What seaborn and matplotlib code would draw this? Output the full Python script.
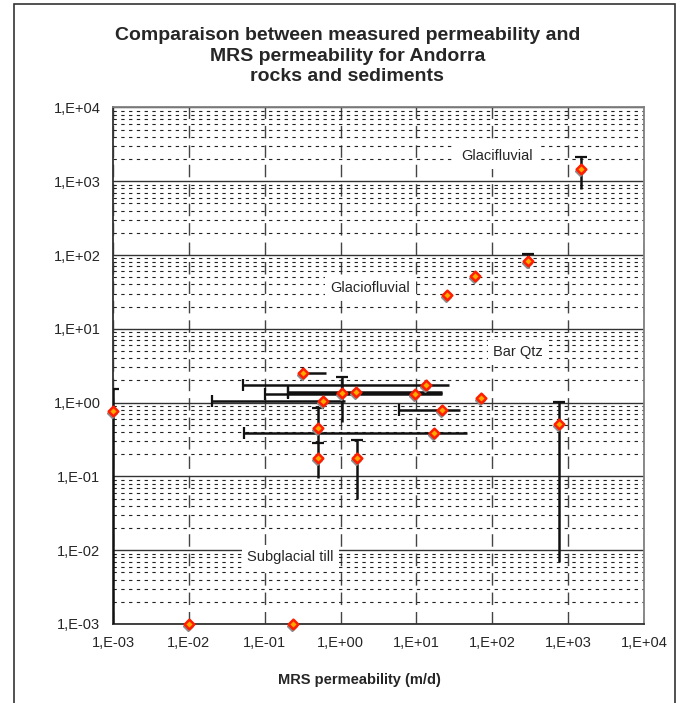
import numpy as np
import pandas as pd
import matplotlib
matplotlib.use("Agg")
import matplotlib.pyplot as plt
import seaborn as sns
from matplotlib.patches import Rectangle
from matplotlib.transforms import offset_copy
from matplotlib.ticker import FixedLocator, FuncFormatter, NullFormatter, NullLocator

nan = np.nan

# MRS permeability (x) vs measured permeability (y), m/d
mrs_k = [0.001, 0.01, 0.237, 0.32, 0.5, 0.5, 0.58, 1.04, 1.59, 9.6,
         13.3, 17.2, 21.9, 70.3, 759, 1.67, 25.5, 59.2, 293, 1466]
meas_k = [0.77, 0.001, 0.001, 2.55, 0.46, 0.18, 1.06, 1.37, 1.39, 1.30,
          1.76, 0.39, 0.79, 1.15, 0.52, 0.18, 28.6, 52.2, 83.4, 1450]

# error bar ends (nan = no bar)
mrs_lo = [nan, nan, nan, 0.32, nan, nan, 0.020, 0.2, 0.2, 0.1,
          0.051, 0.053, 5.9, nan, nan, nan, nan, nan, nan, nan]
mrs_hi = [nan, nan, nan, 0.64, nan, nan, 1.14, 22, 22, 22,
          27, 46, 37.5, nan, nan, nan, nan, nan, nan, nan]
meas_lo = [0.001, nan, nan, nan, 0.284, 0.094, nan, 0.545, nan, nan,
           nan, nan, nan, nan, 0.007, 0.05, nan, nan, 65.8, 776]
meas_hi = [1.51, nan, nan, nan, 0.845, 0.284, nan, 2.23, nan, nan,
           nan, nan, nan, nan, 1.03, 0.315, nan, nan, 102, 2150]

# rock type labels
label_text = ["Glacifluvial", "Glaciofluvial", "Bar Qtz", "Subglacial till"]
label_x = [114, 2.47, 218, 0.22]
label_y = [2200, 36.3, 4.8, 0.008]

# axis decades
decades = [-3, -2, -1, 0, 1, 2, 3, 4]

df = pd.DataFrame({"mrs": mrs_k, "meas": meas_k,
                   "mrs_lo": mrs_lo, "mrs_hi": mrs_hi,
                   "meas_lo": meas_lo, "meas_hi": meas_hi})

sns.set_style("white")
plt.rcParams["font.family"] = ["Liberation Sans", "DejaVu Sans"]

fig = plt.figure(figsize=(6.81, 7.03), dpi=100)
ax = fig.add_axes([0.1659, 0.1124, 0.7797, 0.7347])

ax.set_xscale("log")
ax.set_yscale("log")

#grid
major = 10.0 ** np.array(decades)
minor = np.array([m * d for d in major[:-1] for m in range(2, 10)])
ax.xaxis.set_major_locator(FixedLocator(major))
ax.yaxis.set_major_locator(FixedLocator(major))
ax.yaxis.set_minor_locator(FixedLocator(minor))
ax.xaxis.set_minor_locator(NullLocator())
ax.grid(axis="y", which="major", color="#333333", lw=1.0, ls="-")
ax.grid(axis="y", which="minor", color="#222222", lw=0.8, ls=(0, (3, 4)))
ax.grid(axis="x", which="major", color="#444444", lw=1.0, ls=(0, (9, 5)))
ax.set_axisbelow(True)

fmt = FuncFormatter(lambda v, p: "1,E%+03d" % int(round(np.log10(v))))
ax.xaxis.set_major_formatter(fmt)
ax.yaxis.set_major_formatter(fmt)
ax.xaxis.set_minor_formatter(NullFormatter())
ax.yaxis.set_minor_formatter(NullFormatter())
ax.tick_params(axis="both", which="major", labelsize=10.5, length=5, width=1,
               color="#555555", direction="out", pad=4)
ax.tick_params(axis="both", which="minor", length=0)
for s in ax.spines.values():
    s.set_color("#808080")
    s.set_linewidth(1.3)
ax.spines["left"].set_color("#333333")
ax.spines["bottom"].set_color("#333333")

#error bars: caps only at left end (x) and top end (y)
h = df.dropna(subset=["mrs_lo"])
ax.errorbar(h["mrs"], h["meas"],
            xerr=[h["mrs"] - h["mrs_lo"], h["mrs_hi"] - h["mrs"]],
            fmt="none", ecolor="#111111", elinewidth=1.8, capsize=0, zorder=3)
ax.plot(h["mrs_lo"], h["meas"], ls="none", marker="|", ms=9, mew=1.6,
        color="#111111", zorder=3)
v = df.dropna(subset=["meas_lo"])
ax.errorbar(v["mrs"], v["meas"],
            yerr=[v["meas"] - v["meas_lo"], v["meas_hi"] - v["meas"]],
            fmt="none", ecolor="#111111", elinewidth=1.8, capsize=0, zorder=3)
ax.plot(v["mrs"], v["meas_hi"], ls="none", marker="_", ms=9, mew=1.6,
        color="#111111", zorder=3)

#markers with shadow
shadow = offset_copy(ax.transData, fig=fig, x=-1, y=-2, units="dots")
ax.plot(df["mrs"], df["meas"], ls="none", marker="D", ms=5.5, color="#8c8c8c",
        mec="#8c8c8c", transform=shadow, zorder=4, clip_on=False)
sns.scatterplot(data=df, x="mrs", y="meas", ax=ax, marker="D", s=24,
                color="#FFA800", edgecolor="#FF1E00", linewidth=1.8,
                zorder=5, clip_on=False, legend=False)

for t, lx, ly in zip(label_text, label_x, label_y):
    ax.text(lx, ly, t, ha="center", va="center", fontsize=10.5,
            bbox=dict(facecolor="white", edgecolor="none", pad=4), zorder=2.5)

ax.set_xlim(1e-3, 1e4)
ax.set_ylim(1e-3, 1e4)
ax.set(xlabel=None, ylabel=None)

fig.text(0.528, 0.033, "MRS permeability (m/d)", ha="center", va="center",
         fontsize=10.5, fontweight="bold")
fig.text(0.51, 0.920, "Comparaison between measured permeability and\nMRS permeability for Andorra\nrocks and sediments",
         ha="center", va="center", fontsize=14, fontweight="bold", linespacing=1.25)

fig.patches.append(Rectangle((14 / 681, -0.01), (675 - 14) / 681, 1 - 4 / 703 + 0.01,
                             transform=fig.transFigure, fill=False,
                             edgecolor="#333333", lw=1.2))

fig.savefig("out.png", dpi=100, facecolor="white")
